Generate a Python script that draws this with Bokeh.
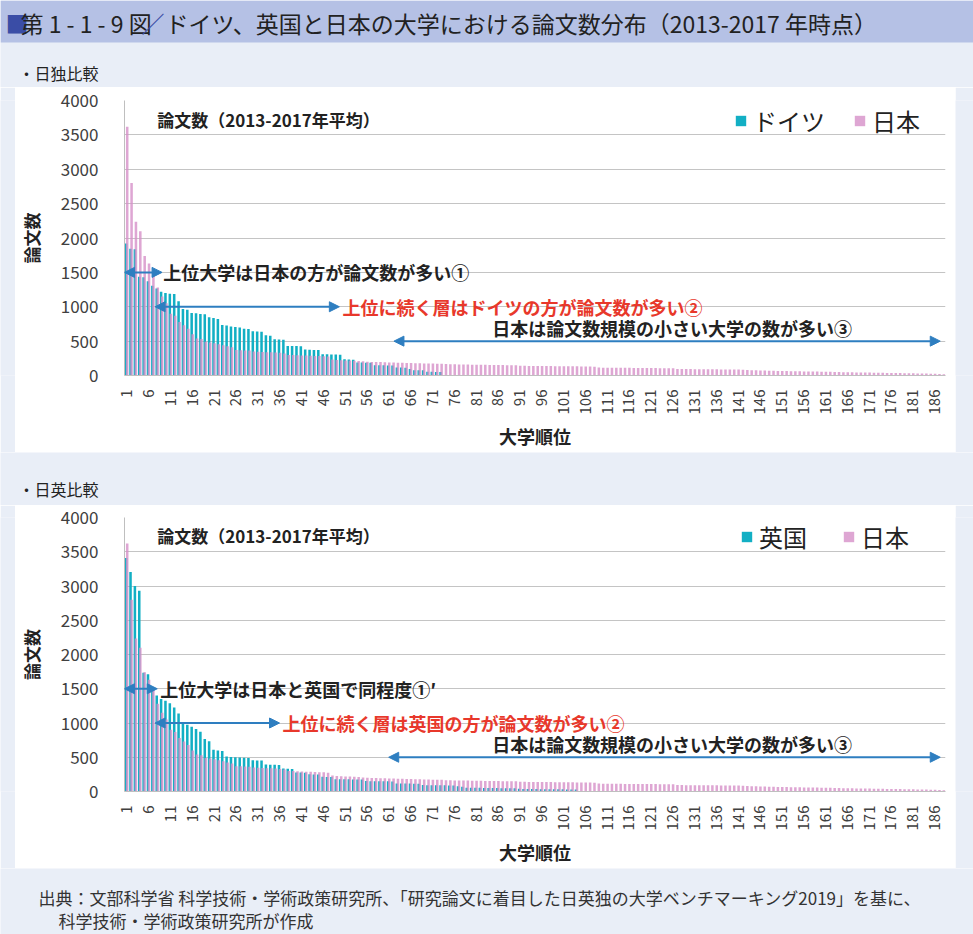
import math
from bokeh.plotting import figure
from bokeh.layouts import column, row
from bokeh.models import (Range1d, FixedTicker, Label, Arrow, NormalHead, Legend,
                          LegendItem, ColumnDataSource, BoxAnnotation)
from bokeh.transform import dodge
from bokeh.embed import file_html
from bokeh.resources import INLINE

# ---------------- data ----------------
japan = [
    3620, 2800, 2235, 2100, 1740, 1630, 1500, 1280, 1150, 1050,
    900, 870, 780, 730, 680, 600, 540, 530, 490, 480,
    470, 455, 440, 425, 410, 370, 368, 365, 362, 350,
    345, 342, 340, 338, 335, 330, 320, 300, 298, 295,
    292, 290, 288, 285, 282, 280, 275, 232, 226, 222,
    220, 218, 215, 212, 206, 200, 198, 196, 195, 193,
    190, 188, 186, 185, 183, 182, 180, 178, 176, 175,
    173, 171, 170, 166, 164, 162, 161, 160, 159, 158,
    157, 156, 155, 154, 153, 152, 151, 150, 149, 148,
    142, 141, 140, 140, 139, 138, 138, 137, 136, 136,
    135, 135, 134, 133, 132, 131, 130, 128, 115, 114,
    113, 113, 112, 112, 111, 111, 110, 110, 109, 109,
    108, 108, 107, 107, 106, 105, 95, 94, 93, 93,
    92, 92, 91, 91, 90, 90, 89, 89, 88, 88,
    87, 85, 80, 78, 76, 74, 72, 70, 68, 66,
    65, 64, 63, 62, 61, 60, 59, 58, 57, 56,
    55, 54, 52, 50, 48, 47, 46, 45, 44, 43,
    42, 41, 40, 39, 38, 37, 36, 35, 34, 33,
    32, 30, 29, 28, 26, 24, 22, 18,
]

germany = [
    1920, 1845, 1835, 1435, 1430, 1370, 1305, 1265, 1220, 1200,
    1190, 1185, 1080, 968, 958, 910, 905, 895, 890, 848,
    838, 823, 736, 727, 712, 705, 700, 680, 678, 645,
    640, 635, 585, 580, 528, 525, 520, 430, 428, 428,
    425, 378, 375, 372, 370, 310, 308, 306, 305, 303,
    235, 232, 230, 190, 188, 187, 185, 150, 149, 148,
    147, 146, 116, 115, 113, 95, 78, 77, 76, 55,
    53, 52, 50,
]

uk = [
    3410, 3205, 3000, 2930, 1735, 1710, 1520, 1400, 1350, 1325,
    1290, 1228, 1140, 988, 976, 947, 913, 874, 768, 734,
    609, 600, 590, 512, 502, 500, 495, 492, 490, 456,
    454, 452, 395, 392, 390, 388, 335, 333, 330, 278,
    276, 274, 252, 250, 249, 215, 213, 212, 180, 179,
    178, 178, 177, 176, 175, 152, 151, 150, 150, 149,
    148, 147, 118, 117, 116, 115, 114, 112, 94, 93,
    92, 92, 91, 90, 89, 88, 75, 70, 56, 55,
    54, 53, 52, 51, 50, 50, 49, 49, 48, 48,
    40, 38, 37, 36, 35, 34, 34, 33, 33, 32,
    32, 31, 31, 30,
]

x_ticks = list(range(1, 187, 5))
y_ticks = [0, 500, 1000, 1500, 2000, 2500, 3000, 3500, 4000]

# ---------------- style ----------------
BG = "#E9EEF7"
BAND = "#B5C1E5"
TEAL = "#12AFC4"
PINK = "#D690C8"
ARROWC = "#2E7EC0"
RED = "#E8382B"
DARK = "#222222"
FONT = "Noto Sans CJK JP"
N = len(japan)
W = 973


def blank(w, h):
    p = figure(width=w, height=h, x_range=Range1d(0, w), y_range=Range1d(0, h),
               toolbar_location=None, output_backend="svg", min_border=0,
               x_axis_location=None, y_axis_location=None)
    p.grid.visible = False
    p.outline_line_color = None
    p.background_fill_color = BG
    p.border_fill_color = BG
    return p


def lbl(p, x, y, text, size, color=DARK, bold=False, align="left"):
    p.add_layout(Label(x=x, y=y, text=text, text_font=FONT, text_font_size=size,
                       text_color=color, text_font_style="bold" if bold else "normal",
                       text_baseline="middle", text_align=align))


def harrow(p, x0, x1, y):
    p.add_layout(Arrow(x_start=x0, y_start=y, x_end=x1, y_end=y,
                       line_color=ARROWC, line_width=2,
                       start=NormalHead(size=10, fill_color=ARROWC, line_color=ARROWC),
                       end=NormalHead(size=10, fill_color=ARROWC, line_color=ARROWC)))


def chart(other, other_name, h, top_b, arrows, texts, title_y, leg_loc, leg_spacing):
    p = figure(width=940, height=h, x_range=Range1d(0.5, N + 0.5), y_range=Range1d(0, 4000),
               toolbar_location=None, output_backend="svg",
               min_border_left=104, min_border_right=10, min_border_top=top_b,
               min_border_bottom=75)
    p.background_fill_color = "white"
    p.border_fill_color = "white"
    p.outline_line_color = None
    p.xgrid.visible = False
    p.ygrid.grid_line_color = "#C4C4C4"
    p.ygrid.grid_line_width = 1
    p.ygrid.ticker = FixedTicker(ticks=y_ticks)

    src_o = ColumnDataSource(dict(rank=list(range(1, len(other) + 1)), v=other))
    src_j = ColumnDataSource(dict(rank=list(range(1, N + 1)), v=japan))
    r_o = p.vbar(x=dodge("rank", -0.12, range=p.x_range), top="v", bottom=0, width=0.58,
                 source=src_o, fill_color=TEAL, line_color=None)
    r_j = p.vbar(x=dodge("rank", 0.12, range=p.x_range), top="v", bottom=0, width=0.58,
                 source=src_j, fill_color=PINK, fill_alpha=0.8, line_color=None)

    p.xaxis.ticker = FixedTicker(ticks=x_ticks)
    p.yaxis.ticker = FixedTicker(ticks=y_ticks)
    p.xaxis.major_label_orientation = math.pi / 2
    for ax in (p.xaxis, p.yaxis):
        ax.axis_line_color = "#BFBFBF"
        ax.major_tick_line_color = None
        ax.minor_tick_line_color = None
        ax.major_label_text_font = FONT
        ax.major_label_text_font_size = "15px"
        ax.major_label_text_color = "#404040"
        ax.axis_label_text_font = FONT
        ax.axis_label_text_font_style = "bold"
        ax.axis_label_text_color = DARK
    p.yaxis.major_label_text_font_size = "17px"
    p.yaxis.major_label_standoff = 20
    p.xaxis.major_label_standoff = 8
    p.yaxis.axis_label = "論文数"
    p.xaxis.axis_label = "大学順位"
    p.yaxis.axis_label_text_font_size = "17px"
    p.xaxis.axis_label_text_font_size = "18px"
    p.yaxis.axis_label_standoff = 14
    p.xaxis.axis_label_standoff = 6

    for (x0, x1, y) in arrows:
        harrow(p, x0, x1, y)
    for (x, y, t, c, al) in texts:
        lbl(p, x, y, t, "18px", color=c, bold=True, align=al)
    lbl(p, 8.0, title_y, "論文数（2013-2017年平均）", "17px", bold=True)

    leg = Legend(items=[LegendItem(label=other_name, renderers=[r_o]),
                        LegendItem(label="日本", renderers=[r_j])],
                 orientation="horizontal", location=leg_loc)
    leg.label_text_font = FONT
    leg.label_text_font_size = "24px"
    leg.label_text_color = DARK
    leg.glyph_width = 13
    leg.glyph_height = 13
    leg.spacing = leg_spacing
    leg.label_standoff = 6
    leg.padding = 0
    leg.margin = 0
    leg.border_line_color = None
    leg.background_fill_alpha = 0
    p.add_layout(leg)
    return p


# ---------------- header ----------------
header = blank(W, 87)
header.add_layout(BoxAnnotation(left=0, right=W, bottom=45, top=87, fill_color=BAND,
                                fill_alpha=1, line_color=None))
lbl(header, 5, 65, "■", "23px", color="#3A4DA6")
lbl(header, 20, 65, "第 1 - 1 - 9 図", "23px")
lbl(header, 141, 65, "／", "23px", color="#3A4DA6")
lbl(header, 165, 65, "ドイツ、英国と日本の大学における論文数分布（2013-2017 年時点）", "23px")
lbl(header, 18, 15, "・日独比較", "16px")

# ---------------- charts ----------------
top = chart(
    germany, "ドイツ", 365, 13,
    arrows=[(0.5, 9.1, 1500), (7.5, 49.7, 1000), (62.2, 187.3, 500)],
    texts=[(9.4, 1500, "上位大学は日本の方が論文数が多い①", DARK, "left"),
           (50.4, 1000, "上位に続く層はドイツの方が論文数が多い②", RED, "left"),
           (125.9, 693, "日本は論文数規模の小さい大学の数が多い③", DARK, "center")],
    title_y=3726, leg_loc=(610, 237), leg_spacing=28)

mid = blank(W, 53)
lbl(mid, 18, 17, "・日英比較", "16px")

bottom = chart(
    uk, "英国", 363, 12,
    arrows=[(0.5, 8.0, 1500), (7.5, 36.0, 1000), (61.0, 187.3, 500)],
    texts=[(8.7, 1500, "上位大学は日本と英国で同程度①′", DARK, "left"),
           (36.7, 1000, "上位に続く層は英国の方が論文数が多い②", RED, "left"),
           (125.9, 696, "日本は論文数規模の小さい大学の数が多い③", DARK, "center")],
    title_y=3739, leg_loc=(616, 237), leg_spacing=35)

footer = blank(W, 66)
lbl(footer, 38, 37, "出典：文部科学省 科学技術・学術政策研究所、「研究論文に着目した日英独の大学ベンチマーキング2019」を基に、", "17px", color="#333333")
lbl(footer, 58, 14, "科学技術・学術政策研究所が作成", "17px", color="#333333")

layout = column(
    header,
    row(blank(15, 365), top, blank(18, 365)),
    mid,
    row(blank(15, 363), bottom, blank(18, 363)),
    footer,
)

open("out.html", "w").write(file_html(layout, INLINE))
